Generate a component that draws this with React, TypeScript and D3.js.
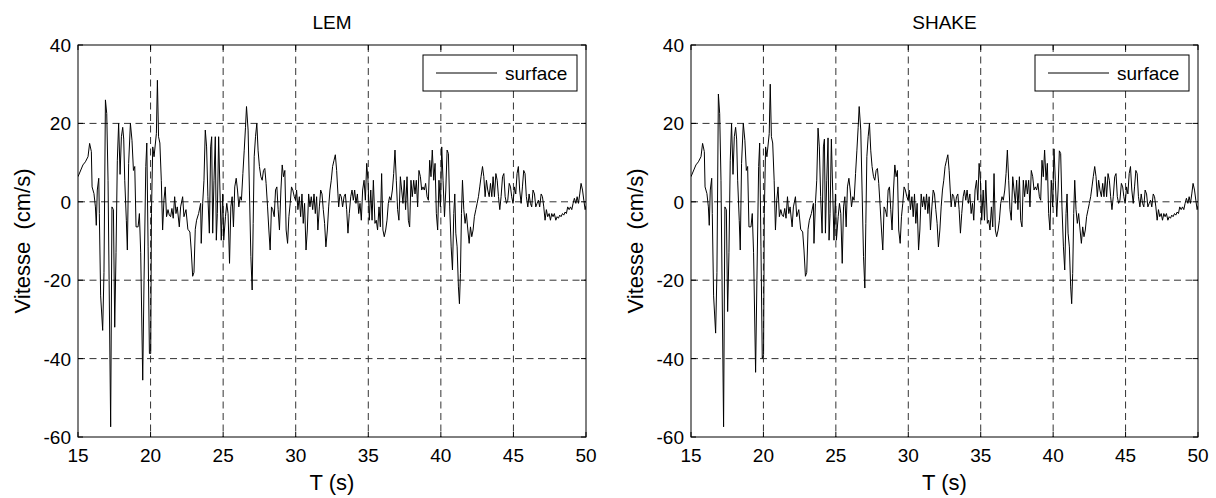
import React from 'react';
import * as d3 from 'd3';

const xTicks = [15, 20, 25, 30, 35, 40, 45, 50];
const yTicks = [-60, -40, -20, 0, 20, 40];

const lemT = [
  15.00, 15.34, 15.51, 15.69, 15.80, 15.92, 15.97, 16.10, 16.20, 16.26, 16.33, 16.43, 16.47, 16.56, 16.70, 16.79, 16.89, 16.98, 17.07, 17.25,
  17.34, 17.44, 17.53, 17.62, 17.71, 17.80, 17.90, 17.99, 18.08, 18.15, 18.22, 18.33, 18.40, 18.49, 18.61, 18.72, 18.82, 18.91, 19.00, 19.14,
  19.23, 19.32, 19.46, 19.55, 19.67, 19.74, 19.83, 19.92, 20.01, 20.06, 20.15, 20.24, 20.40, 20.47, 20.55, 20.64, 20.74, 20.83, 20.92, 21.01,
  21.10, 21.20, 21.29, 21.38, 21.47, 21.56, 21.66, 21.75, 21.84, 21.98, 22.07, 22.21, 22.30, 22.44, 22.57, 22.71, 22.80, 22.90, 22.99, 23.08,
  23.17, 23.31, 23.45, 23.49, 23.59, 23.68, 23.77, 23.86, 23.95, 24.05, 24.14, 24.21, 24.28, 24.37, 24.46, 24.53, 24.60, 24.69, 24.78, 24.87,
  24.97, 25.04, 25.16, 25.25, 25.34, 25.44, 25.53, 25.62, 25.71, 25.80, 25.90, 25.99, 26.08, 26.17, 26.26, 26.36, 26.45, 26.54, 26.61, 26.72,
  26.81, 26.91, 27.00, 27.07, 27.14, 27.23, 27.32, 27.41, 27.50, 27.60, 27.69, 27.78, 27.87, 27.96, 28.06, 28.15, 28.24, 28.33, 28.42, 28.52,
  28.61, 28.70, 28.79, 28.88, 28.98, 29.07, 29.16, 29.25, 29.34, 29.44, 29.53, 29.62, 29.71, 29.80, 29.90, 29.99, 30.06, 30.15, 30.25, 30.34,
  30.43, 30.52, 30.61, 30.71, 30.80, 30.89, 30.98, 31.07, 31.17, 31.26, 31.35, 31.44, 31.53, 31.63, 31.72, 31.81, 31.90, 31.99, 32.08, 32.18,
  32.27, 32.36, 32.45, 32.54, 32.64, 32.73, 32.82, 32.91, 32.96, 33.05, 33.14, 33.23, 33.33, 33.42, 33.51, 33.60, 33.69, 33.79, 33.88, 33.97,
  34.06, 34.15, 34.25, 34.34, 34.43, 34.52, 34.61, 34.71, 34.80, 34.89, 34.98, 35.07, 35.17, 35.26, 35.35, 35.46, 35.55, 35.64, 35.74, 35.83,
  35.92, 36.01, 36.10, 36.20, 36.29, 36.38, 36.47, 36.56, 36.66, 36.75, 36.84, 36.93, 37.02, 37.11, 37.21, 37.30, 37.39, 37.48, 37.57, 37.67,
  37.76, 37.85, 37.94, 38.03, 38.13, 38.22, 38.31, 38.40, 38.49, 38.59, 38.68, 38.77, 38.86, 38.95, 39.05, 39.14, 39.23, 39.32, 39.41, 39.51,
  39.60, 39.69, 39.78, 39.87, 39.97, 40.06, 40.15, 40.25, 40.34, 40.43, 40.52, 40.61, 40.71, 40.80, 40.89, 40.96, 41.03, 41.12, 41.21, 41.28,
  41.35, 41.42, 41.49, 41.58, 41.67, 41.76, 41.86, 41.95, 42.04, 42.13, 42.22, 42.31, 42.41, 42.50, 42.59, 42.68, 42.77, 42.87, 42.96, 43.05,
  43.14, 43.23, 43.33, 43.42, 43.51, 43.60, 43.69, 43.79, 43.88, 43.97, 44.06, 44.15, 44.25, 44.34, 44.43, 44.52, 44.61, 44.71, 44.80, 44.88,
  44.97, 45.07, 45.16, 45.25, 45.34, 45.43, 45.53, 45.62, 45.71, 45.80, 45.89, 45.99, 46.08, 46.17, 46.26, 46.35, 46.45, 46.54, 46.63, 46.72,
  46.81, 46.91, 47.00, 47.09, 47.18, 47.27, 47.36, 47.46, 47.55, 47.64, 47.73, 47.82, 47.92, 48.01, 48.10, 48.19, 48.28, 48.38, 48.47, 48.56,
  48.65, 48.74, 48.84, 48.93, 49.02, 49.11, 49.20, 49.30, 49.39, 49.48, 49.57, 49.66, 49.76, 49.85, 49.94, 50.00,
];

const lemV = [
  6.4, 9.4, 10.2, 11.5, 14.9, 12.8, 3.8, 2.1, -1.3, -6.0, 3.0, 6.0, -3.0, -24, -32.8, -18, 26, 22.5, 5.5, -57.4,
  -1.3, -2, -32, -13, 10.6, 20, 7, 16.6, 19, 16, 5.5, -4.7, -12.3, 9.8, 20, 15.7, 8, 9, -6.4, -6.4,
  -3, -13, -45.5, -20, 9, 15, -11.5, -38.7, -38.7, -3, 14, 11.5, 17.4, 31, 16.6, 15, 5.5, -7.2, 0.4, 3.8,
  -3.8, -2, -3.4, -3.8, -1.7, -4.2, 1.3, -3, -1.3, -6.4, -1.3, 1.3, -3.8, -2, -7, -7.7, -12.3, -19, -18, -7,
  -4.7, -3, -0.4, -10.6, -0.4, 5.5, 18.3, 14, 1.3, -8, 14, 16.6, -8, 5.5, 16.6, -9.8, -3, 16.6, 3, -9.8,
  2, -9.8, -3.8, -0.4, -3, -15.7, -1.3, 1.3, -6.4, 3.8, 6, 3, -1.3, 1.3, 0.4, 7.2, 13, 19, 24.3, 18.3,
  3, -14, -22.5, -5.5, 11.5, 16.6, 20, 13, 9, 6.4, 5.5, 8, 8.5, 4.7, -1.3, -7.2, -12.3, -1.3, -2, -3.8,
  3, 3.8, -2, -7.2, 3, 9.4, 6.4, 8, -7.2, -10.6, -3.8, -0.4, 3.8, 3, 1.3, 0.4, 3, -2, 1.3, -3.8,
  2, -5.5, -0.4, -12.3, -7.2, 2, -1.3, 1.3, -2, 2, -3, 1.3, -7.2, -1.3, 3, 2, -2, -5.5, -11.5, -7.2,
  -1.3, 3, 5.5, 9, 10.6, 12, 8, 2, -1.3, 2, 1.3, -1.3, 1.3, 2, -2, -8, -3, 1.3, 3, 0.4,
  3, -0.4, 2, -3, -0.4, -4.7, 3, 5.5, 0.4, 9.8, 5.5, -4.7, 3, -4.7, 5.5, -5.5, -4.7, -7.2, -1.3, -6.4,
  7.2, -7.2, -8.9, -7.2, -4.7, -0.4, 1.3, 0.4, 3, 7.2, 13.2, 5.5, -2, -4.7, 6.4, 3, -0.4, 5.5, -2, 6.4,
  -4.7, -6.4, 5.5, 1.3, 5.5, 2, 5.5, -1.3, 8, 6.4, 3, 3.8, 3, 4.7, 1.3, 0.4, 10.6, 6.4, 13.2, 5.5,
  9.8, -3, -7.2, 5.5, -1.3, 14, 5.5, -3.8, 3, 13.2, 12.3, -1.3, -11.5, -17.4, -3, 2, -8, -11.5, -21.7, -26,
  -18.3, -3, 5.5, -2, -5.5, -3, -7.2, -10.6, -6.4, -8.9, -7.2, -3.8, -2, -0.4, 1.3, 3.8, 6.4, 9, 6.4, 1.3,
  5.5, 3, 1.3, 4.7, 1.3, 6.4, 1.3, 7.2, 5.5, 1.3, -2, 1.3, 6.4, 7.2, 1.3, -0.4, 0.4, 4.7, 3.8, 1.3,
  -0.4, 3.8, 2, 7.2, 9, 3, -0.4, 3.8, 8, 7.2, 1.3, -1.3, 2, -0.4, -1.3, 3, 2, -1.3, -0.4, 0.4,
  -1.3, 2, 1.3, -1.3, -4.7, -2, -3.8, -3, -4.7, -3, -3.8, -3, -4.7, -3.8, -4.2, -3.4, -3.8, -3, -3.4, -2.6,
  -3, -1.3, -2, -1.3, -2, -0.4, 0.9, -0.4, 1.3, -0.4, 2, 4.7, 3, 0.4, -2, -1,
];

const shakeT = lemT;
const shakeV = [
  6.4, 9.4, 10.2, 11.5, 14.9, 12.8, 3.8, 2.1, -1.3, -6.0, 3.0, 6.0, -3.0, -24, -33.5, -18, 27.5, 22.5, 5.5, -57.4,
  -1.3, -2, -28, -13, 10.6, 20, 7, 16.6, 19, 16, 5.5, -4.7, -12.3, 9.8, 20, 15.7, 8, 9, -6.4, -6.4,
  -3, -13, -43.5, -20, 9, 15, -11.5, -40, -39, -3, 14, 11.5, 17.4, 30, 16.6, 15, 5.5, -7.2, 0.4, 3.8,
  -3.8, -2, -3.4, -3.8, -1.7, -4.2, 1.3, -3, -1.3, -6.4, -1.3, 1.3, -3.8, -2, -7, -7.7, -12.3, -19, -18, -7,
  -4.7, -3, -0.4, -10.6, -0.4, 5.5, 18.8, 14, 1.3, -8, 14, 16, -8, 5.5, 16.3, -9.8, -3, 16, 3, -9.8,
  2, -9.8, -3.8, -0.4, -3, -15.7, -1.3, 1.3, -6.4, 3.8, 6, 3, -1.3, 1.3, 0.4, 7.2, 13, 19, 24.3, 18.3,
  3, -14, -22, -5.5, 11.5, 16.6, 20, 13, 9, 6.4, 5.5, 8, 8.5, 4.7, -1.3, -7.2, -12.3, -1.3, -2, -3.8,
  3, 3.8, -2, -7.2, 3, 9.4, 6.4, 8, -7.2, -10.6, -3.8, -0.4, 3.8, 3, 1.3, 0.4, 3, -2, 1.3, -3.8,
  2, -5.5, -0.4, -12.3, -7.2, 2, -1.3, 1.3, -2, 2, -3, 1.3, -7.2, -1.3, 3, 2, -2, -5.5, -11.5, -7.2,
  -1.3, 3, 5.5, 9, 10.6, 12, 8, 2, -1.3, 2, 1.3, -1.3, 1.3, 2, -2, -8, -3, 1.3, 3, 0.4,
  3, -0.4, 2, -3, -0.4, -4.7, 3, 5.5, 0.4, 9.8, 5.5, -4.7, 3, -4.7, 5.5, -5.5, -4.7, -7.2, -1.3, -6.4,
  7.2, -7.2, -8.9, -7.2, -4.7, -0.4, 1.3, 0.4, 3, 7.2, 13.2, 5.5, -2, -4.7, 6.4, 3, -0.4, 5.5, -2, 6.4,
  -4.7, -6.4, 5.5, 1.3, 5.5, 2, 5.5, -1.3, 8, 6.4, 3, 3.8, 3, 4.7, 1.3, 0.4, 10.6, 6.4, 13.2, 5.5,
  9.8, -3, -7.2, 5.5, -1.3, 13.5, 5.5, -3.8, 3, 13, 12.3, -1.3, -11.5, -17.4, -3, 2, -8, -11.5, -21.7, -26,
  -18.3, -3, 5.5, -2, -5.5, -3, -7.2, -10.6, -6.4, -8.9, -7.2, -3.8, -2, -0.4, 1.3, 3.8, 6.4, 9, 6.4, 1.3,
  5.5, 3, 1.3, 4.7, 1.3, 6.4, 1.3, 7.2, 5.5, 1.3, -2, 1.3, 6.4, 7.2, 1.3, -0.4, 0.4, 4.7, 3.8, 1.3,
  -0.4, 3.8, 2, 7.2, 9, 3, -0.4, 3.8, 8, 7.2, 1.3, -1.3, 2, -0.4, -1.3, 3, 2, -1.3, -0.4, 0.4,
  -1.3, 2, 1.3, -1.3, -4.7, -2, -3.8, -3, -4.7, -3, -3.8, -3, -4.7, -3.8, -4.2, -3.4, -3.8, -3, -3.4, -2.6,
  -3, -1.3, -2, -1.3, -2, -0.4, 0.9, -0.4, 1.3, -0.4, 2, 4.7, 3, 0.4, -2, -1,
];

const FONT = '"Liberation Sans", Arial, sans-serif';

type PanelProps = {
  x0: number; x1: number; y0: number; y1: number;
  title: string; t: number[]; v: number[]; id: string;
};

function Panel({ x0, x1, y0, y1, title, t, v, id }: PanelProps) {
  const x = d3.scaleLinear().domain([15, 50]).range([x0, x1]);
  const y = d3.scaleLinear().domain([-60, 40]).range([y1, y0]);
  const pts: [number, number][] = t.map((ti, i) => [ti, v[i]]);
  const line = d3.line<[number, number]>().x(d => x(d[0])).y(d => y(d[1]));
  const legW = 154, legH = 36;
  const lx = x1 - 9 - legW, ly = y0 + 10;
  const gridColor = '#333';
  return (
    <g>
      <defs>
        <clipPath id={id}>
          <rect x={x0} y={y0} width={x1 - x0} height={y1 - y0} />
        </clipPath>
      </defs>
      <rect x={x0} y={y0} width={x1 - x0} height={y1 - y0} fill="#fff" />
      {xTicks.slice(1, -1).map(tk => (
        <line key={'gx' + tk} x1={x(tk)} x2={x(tk)} y1={y0} y2={y1} stroke={gridColor} strokeWidth={1} strokeDasharray="7,4.5" />
      ))}
      {yTicks.slice(1, -1).map(tk => (
        <line key={'gy' + tk} x1={x0} x2={x1} y1={y(tk)} y2={y(tk)} stroke={gridColor} strokeWidth={1} strokeDasharray="7,4.5" />
      ))}
      <path d={line(pts) || ''} fill="none" stroke="#000" strokeWidth={1} clipPath={`url(#${id})`} strokeLinejoin="round" />
      <rect x={x0} y={y0} width={x1 - x0} height={y1 - y0} fill="none" stroke="#000" strokeWidth={1} />
      {xTicks.map(tk => (
        <g key={'tx' + tk}>
          <line x1={x(tk)} x2={x(tk)} y1={y1} y2={y1 - 5} stroke="#000" />
          <line x1={x(tk)} x2={x(tk)} y1={y0} y2={y0 + 5} stroke="#000" />
          <text x={x(tk)} y={y1 + 25} textAnchor="middle" fontSize={19} fontFamily={FONT}>{tk}</text>
        </g>
      ))}
      {yTicks.map(tk => (
        <g key={'ty' + tk}>
          <line x1={x0} x2={x0 + 5} y1={y(tk)} y2={y(tk)} stroke="#000" />
          <line x1={x1} x2={x1 - 5} y1={y(tk)} y2={y(tk)} stroke="#000" />
          <text x={x0 - 7} y={y(tk) + 7} textAnchor="end" fontSize={19} fontFamily={FONT}>{tk}</text>
        </g>
      ))}
      <text x={(x0 + x1) / 2} y={y0 - 16} textAnchor="middle" fontSize={19} fontFamily={FONT}>{title}</text>
      <text x={(x0 + x1) / 2} y={y1 + 53} textAnchor="middle" fontSize={22} fontFamily={FONT}>T (s)</text>
      <text transform={`translate(${x0 - 48},${(y0 + y1) / 2}) rotate(-90)`} textAnchor="middle" fontSize={22} fontFamily={FONT} xmlSpace="preserve">Vitesse  (cm/s)</text>
      <rect x={lx} y={ly} width={legW} height={legH} fill="#fff" stroke="#000" strokeWidth={1} />
      <line x1={lx + 13} x2={lx + 74} y1={ly + legH / 2} y2={ly + legH / 2} stroke="#000" strokeWidth={1} />
      <text x={lx + 82} y={ly + legH / 2 + 7} fontSize={19} fontFamily={FONT}>surface</text>
    </g>
  );
}

export default function App() {
  return (
    <svg width={1216} height={498} style={{ position: 'absolute', left: 0, top: 0, background: '#fff' }}>
      <rect x={0} y={0} width={1216} height={498} fill="#fff" />
      <Panel id="c1" x0={78} x1={586} y0={45} y1={437} title="LEM" t={lemT} v={lemV} />
      <Panel id="c2" x0={691} x1={1198} y0={45} y1={437} title="SHAKE" t={shakeT} v={shakeV} />
    </svg>
  );
}
